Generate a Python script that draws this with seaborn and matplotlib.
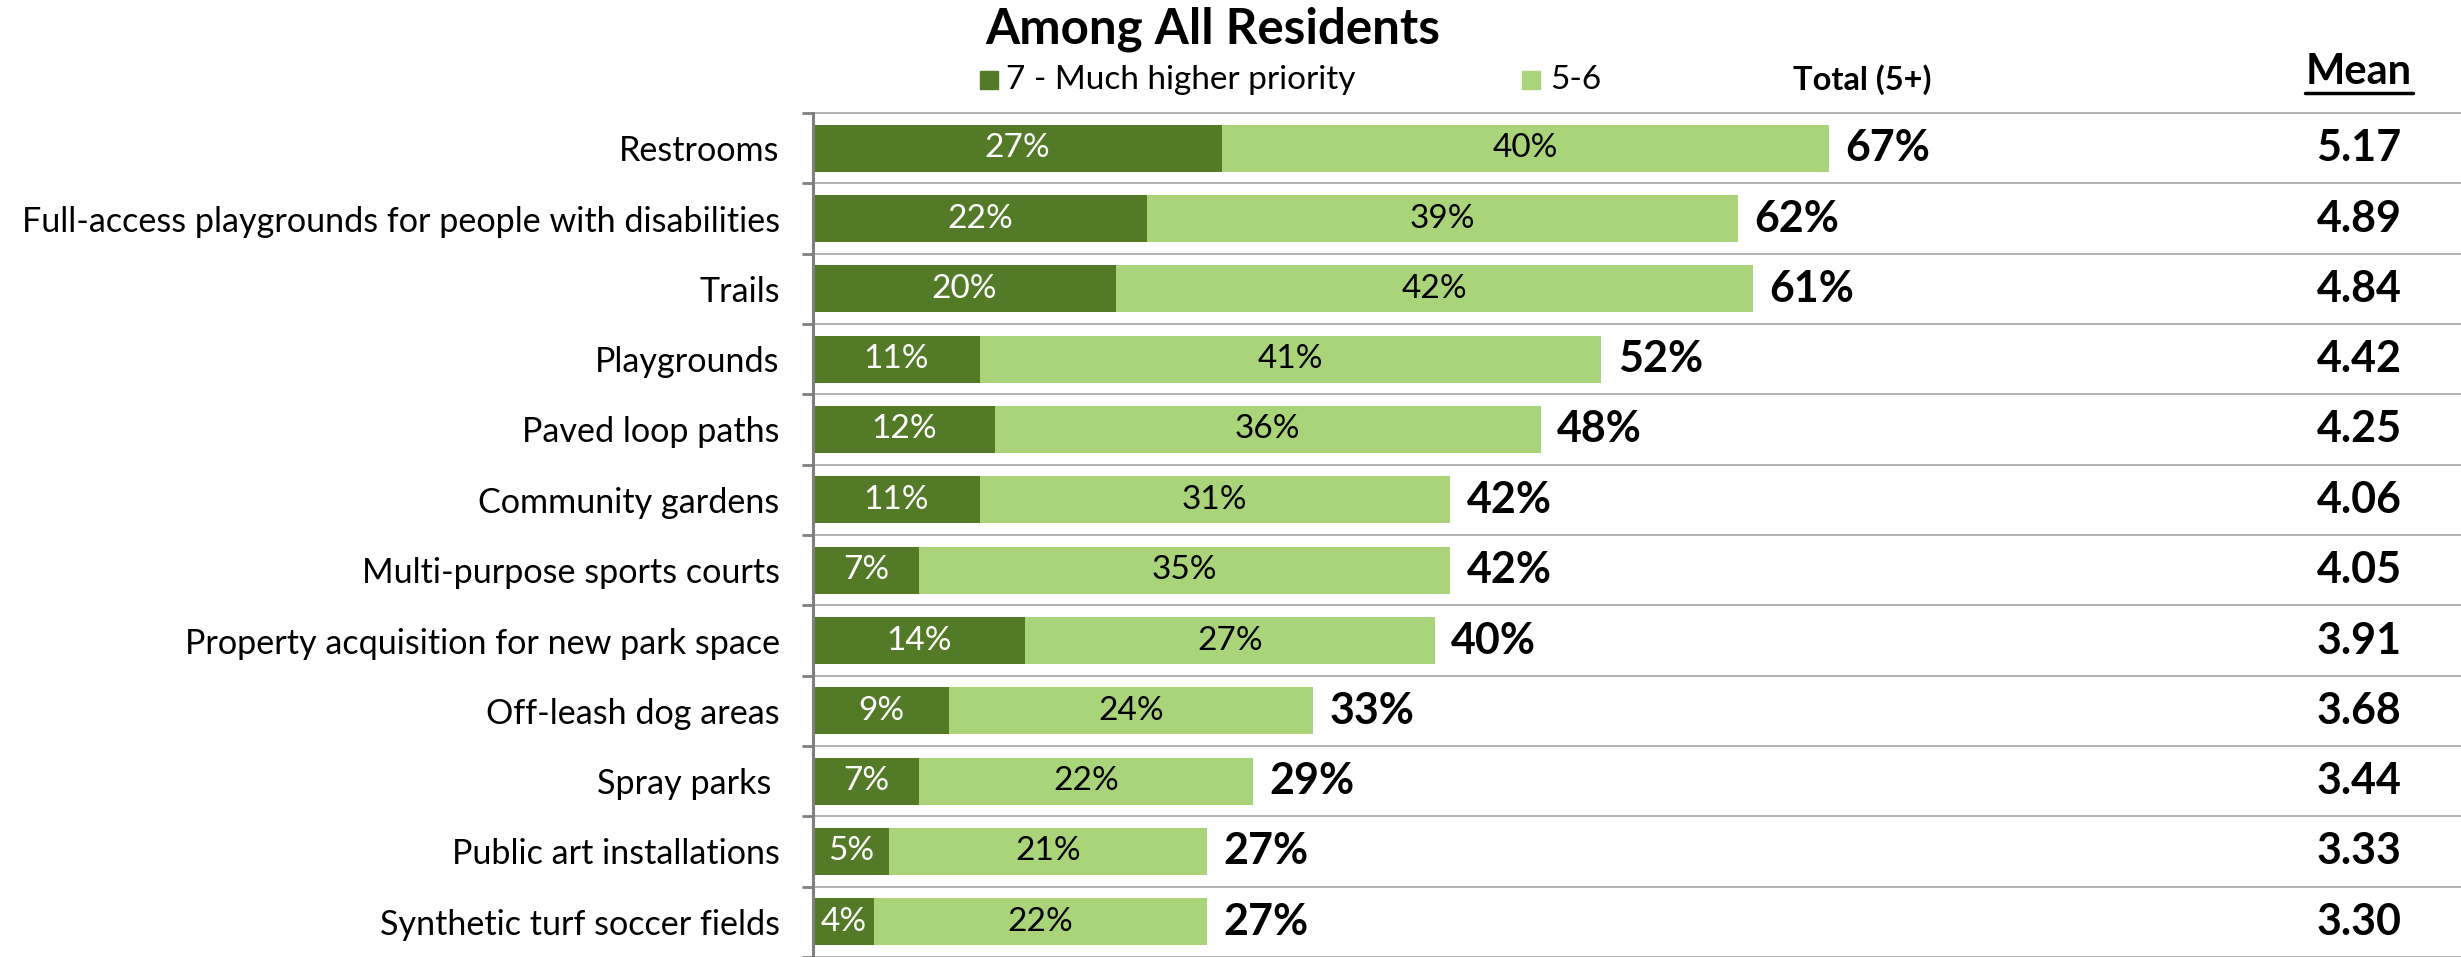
import matplotlib
matplotlib.use("Agg")
import matplotlib.pyplot as plt
import matplotlib.transforms as mtransforms
from matplotlib.patches import Rectangle
from matplotlib.lines import Line2D
import seaborn as sns
import pandas as pd
import numpy as np

# --- data ---
categories = [
    "Restrooms",
    "Full-access playgrounds for people with disabilities",
    "Trails",
    "Playgrounds",
    "Paved loop paths",
    "Community gardens",
    "Multi-purpose sports courts",
    "Property acquisition for new park space",
    "Off-leash dog areas",
    "Spray parks ",
    "Public art installations",
    "Synthetic turf soccer fields",
]
much_higher = [27, 22, 20, 11, 12, 11, 7, 14, 9, 7, 5, 4]
five_six = [40, 39, 42, 41, 36, 31, 35, 27, 24, 22, 21, 22]
totals = [67, 62, 61, 52, 48, 42, 42, 40, 33, 29, 27, 27]
means = [5.17, 4.89, 4.84, 4.42, 4.25, 4.06, 4.05, 3.91, 3.68, 3.44, 3.33, 3.30]

DARK = "#537A27"
LIGHT = "#A9D47A"

df = pd.DataFrame({"item": categories, "top": much_higher, "mid": five_six})
df["stack"] = df["top"] + df["mid"]

sns.set_theme(style="white")
plt.rcParams["font.family"] = ["Lato", "DejaVu Sans"]
plt.rcParams["text.color"] = "black"

W, H = 2461, 957
fig = plt.figure(figsize=(W / 100, H / 100), dpi=100)
ax_left, ax_top = 813, 113
ax = fig.add_axes([ax_left / W, 0, 1 - ax_left / W, (H - ax_top) / H])

# stacked bars: full stack in light green, then the "7" part on top in dark green
sns.barplot(data=df, x="stack", y="item", orient="h", color=LIGHT,
            width=0.67, saturation=1, ax=ax, linewidth=0)
sns.barplot(data=df, x="top", y="item", orient="h", color=DARK,
            width=0.67, saturation=1, ax=ax, linewidth=0)

px_per_pct = 15.16
ax.set_xlim(0, (W - ax_left) / px_per_pct)
ax.set_ylim(len(categories) - 0.5, -0.5)

# segment labels
for i, (t, m, tot) in enumerate(zip(much_higher, five_six, totals)):
    ax.text(t / 2, i, f"{t}%", ha="center", va="center", color="white", fontsize=24)
    ax.text(t + m / 2, i, f"{m}%", ha="center", va="center", color="black", fontsize=24)
    ax.text(t + m + 1.1, i, f"{tot}%", ha="left", va="center", color="black",
            fontsize=31, fontweight="bold")

# mean column
blend = mtransforms.blended_transform_factory(fig.transFigure, ax.transData)
mean_x = 2359 / W
for i, mval in enumerate(means):
    ax.text(mean_x, i, f"{mval:.2f}", transform=blend, ha="center", va="center",
            fontsize=31, fontweight="bold", color="black")

# row separators and axis styling
for b in np.arange(-0.5, len(categories), 1.0):
    ax.axhline(b, color="#A6A6A6", linewidth=1.2, zorder=0, clip_on=False)
ax.set_xticks([])
ax.set_yticks(np.arange(-0.5, len(categories), 1.0), minor=True)
ax.tick_params(axis="y", which="major", length=0, pad=24, labelsize=24.6, labelcolor="black")
ax.tick_params(axis="y", which="minor", length=8, width=2, color="#808080", left=True)
ax.set_xlabel("")
ax.set_ylabel("")
for side in ["top", "right", "bottom"]:
    ax.spines[side].set_visible(False)
ax.spines["left"].set_color("#808080")
ax.spines["left"].set_linewidth(2.2)

# title and legend
fig.text(1213 / W, 1 - 29 / H, "Among All Residents", ha="center", va="center",
         fontsize=35.5, fontweight="bold", color="black")
leg_y = 1 - 80 / H
sq = 18
fig.add_artist(Rectangle((980 / W, leg_y - sq / 2 / H), sq / W, sq / H,
                         transform=fig.transFigure, color=DARK))
fig.text(1006 / W, leg_y, "7 - Much higher priority", ha="left", va="center", fontsize=24)
fig.add_artist(Rectangle((1522 / W, leg_y - sq / 2 / H), sq / W, sq / H,
                         transform=fig.transFigure, color=LIGHT))
fig.text(1550 / W, leg_y, "5-6", ha="left", va="center", fontsize=24)
fig.text(1862 / W, leg_y, "Total (5+)", ha="center", va="center", fontsize=23.5,
         fontweight="bold")

fig.text(mean_x, 1 - 72 / H, "Mean", ha="center", va="center", fontsize=30,
         fontweight="bold")
fig.add_artist(Line2D([2305 / W, 2413 / W], [1 - 93 / H, 1 - 93 / H],
                      transform=fig.transFigure, color="black", linewidth=2.5))

fig.savefig("out.png", dpi=100)
